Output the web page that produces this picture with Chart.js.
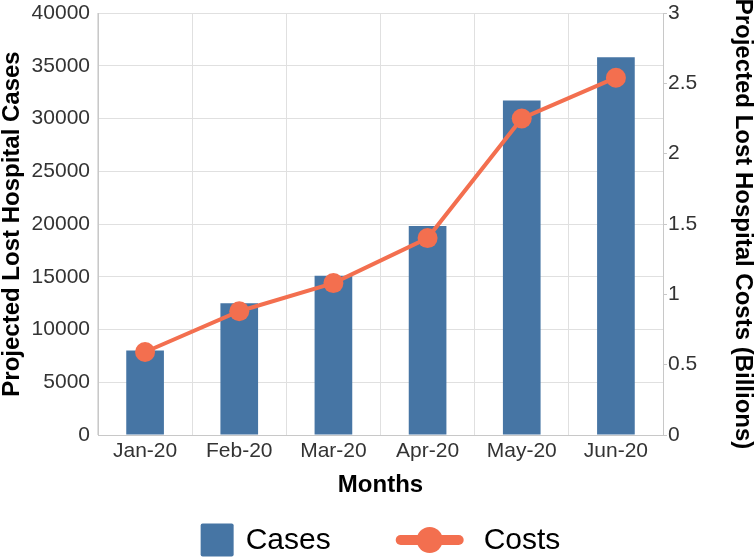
<!DOCTYPE html>
<html>
<head>
<meta charset="utf-8">
<script src="https://cdn.jsdelivr.net/npm/chart.js@4"></script>
<style>
  html, body { margin: 0; padding: 0; background: #fff; }
  #wrap { width: 755px; height: 557px; }
</style>
</head>
<body>
<div id="wrap"><canvas id="c"></canvas></div>
<script>
// ── Data ────────────────────────────────────────────────────────────────
const MONTHS = ["Jan-20", "Feb-20", "Mar-20", "Apr-20", "May-20", "Jun-20"];
const CASES = [8000, 12500, 15100, 19800, 31700, 35800];
const COSTS = [0.59, 0.88, 1.08, 1.40, 2.25, 2.54];

const BLUE = "#4675A4";
const ORANGE = "#F36F4F";
const FONT = "'Liberation Sans', Arial, Helvetica, sans-serif";
const TICK_COLOR = "#333333";
const GRID = "#e0e0e0";
const AXIS = "#c8c8c8";

// ── Custom legend (square for bars, line + dot for the line) ────────────
const legendPlugin = {
  id: "customLegend",
  afterDraw(chart) {
    const { ctx, chartArea } = chart;
    const fontSize = 30;
    ctx.save();
    ctx.font = `${fontSize}px ${FONT}`;
    const w1 = ctx.measureText("Cases").width;
    const w2 = ctx.measureText("Costs").width;
    const box = 33, gap1 = 12, itemGap = 65, mark = 68, gap2 = 20;
    const total = box + gap1 + w1 + itemGap + mark + gap2 + w2;
    let x = (chartArea.left + chartArea.right) / 2 - total / 2;
    const cy = 540;

    ctx.fillStyle = BLUE;
    ctx.beginPath();
    ctx.roundRect(x, cy - box / 2, box, box, 2);
    ctx.fill();
    x += box + gap1;
    ctx.fillStyle = "#000";
    ctx.textBaseline = "middle";
    ctx.textAlign = "left";
    ctx.fillText("Cases", x, cy + 1);
    x += w1 + itemGap;

    ctx.strokeStyle = ORANGE;
    ctx.lineWidth = 10;
    ctx.lineCap = "round";
    ctx.beginPath();
    ctx.moveTo(x + 5, cy);
    ctx.lineTo(x + mark - 5, cy);
    ctx.stroke();
    ctx.fillStyle = ORANGE;
    ctx.beginPath();
    ctx.arc(x + mark / 2, cy, 13, 0, Math.PI * 2);
    ctx.fill();
    x += mark + gap2;
    ctx.fillStyle = "#000";
    ctx.fillText("Costs", x, cy + 1);
    ctx.restore();
  }
};

// pin vertical axis widths and drop the label overhang padding
function fitVertical(width) {
  return (scale) => {
    scale.width = width;
    scale.paddingTop = 0;
    scale.paddingBottom = 0;
  };
}

// ── Chart ───────────────────────────────────────────────────────────────
const ctx = document.getElementById("c").getContext("2d");
new Chart(ctx, {
  type: "bar",
  data: {
    labels: MONTHS,
    datasets: [
      {
        type: "line",
        label: "Costs",
        data: COSTS,
        yAxisID: "y1",
        borderColor: ORANGE,
        backgroundColor: ORANGE,
        pointBackgroundColor: ORANGE,
        pointBorderWidth: 0,
        pointRadius: 10,
        borderWidth: 4,
        tension: 0,
        order: 0,
      },
      {
        type: "bar",
        label: "Cases",
        data: CASES,
        yAxisID: "y",
        backgroundColor: BLUE,
        borderWidth: 0,
        barPercentage: 0.8,
        categoryPercentage: 0.5,
        order: 1,
      }
    ]
  },
  options: {
    responsive: true,
    maintainAspectRatio: false,
    animation: false,
    layout: { padding: { top: 13, bottom: 60, left: 0, right: 0 } },
    plugins: {
      legend: { display: false },
      tooltip: { enabled: false },
    },
    scales: {
      x: {
        offset: true,
        grid: { color: GRID, drawTicks: false, offset: true },
        border: { color: AXIS },
        ticks: { color: TICK_COLOR, font: { family: FONT, size: 21 }, padding: 4 },
        title: {
          display: true, text: "Months", color: "#000",
          font: { family: FONT, size: 24, weight: "bold", lineHeight: 1 },
          padding: 0
        },
        afterFit(scale) { scale.height = 62; }
      },
      y: {
        position: "left",
        min: 0, max: 40000,
        ticks: {
          stepSize: 5000, color: TICK_COLOR, padding: 8,
          font: { family: FONT, size: 21 },
          callback: (v) => String(v)
        },
        grid: { color: GRID, drawTicks: false },
        border: { color: AXIS },
        title: {
          display: true, text: "Projected Lost Hospital Cases", color: "#000",
          font: { family: FONT, size: 24, weight: "bold", lineHeight: 1 },
          padding: 0
        },
        afterFit: fitVertical(98)
      },
      y1: {
        position: "right",
        min: 0, max: 3,
        ticks: {
          stepSize: 0.5, color: TICK_COLOR, padding: 1,
          font: { family: FONT, size: 21 },
          callback: (v) => String(v)
        },
        grid: { drawOnChartArea: false, color: AXIS, tickLength: 4 },
        border: { color: AXIS },
        title: {
          display: true, text: "Projected Lost Hospital Costs (Billions)", color: "#000",
          font: { family: FONT, size: 24, weight: "bold", lineHeight: 1 },
          padding: 0
        },
        afterFit: fitVertical(92)
      }
    }
  },
  plugins: [legendPlugin]
});
</script>
</body>
</html>
